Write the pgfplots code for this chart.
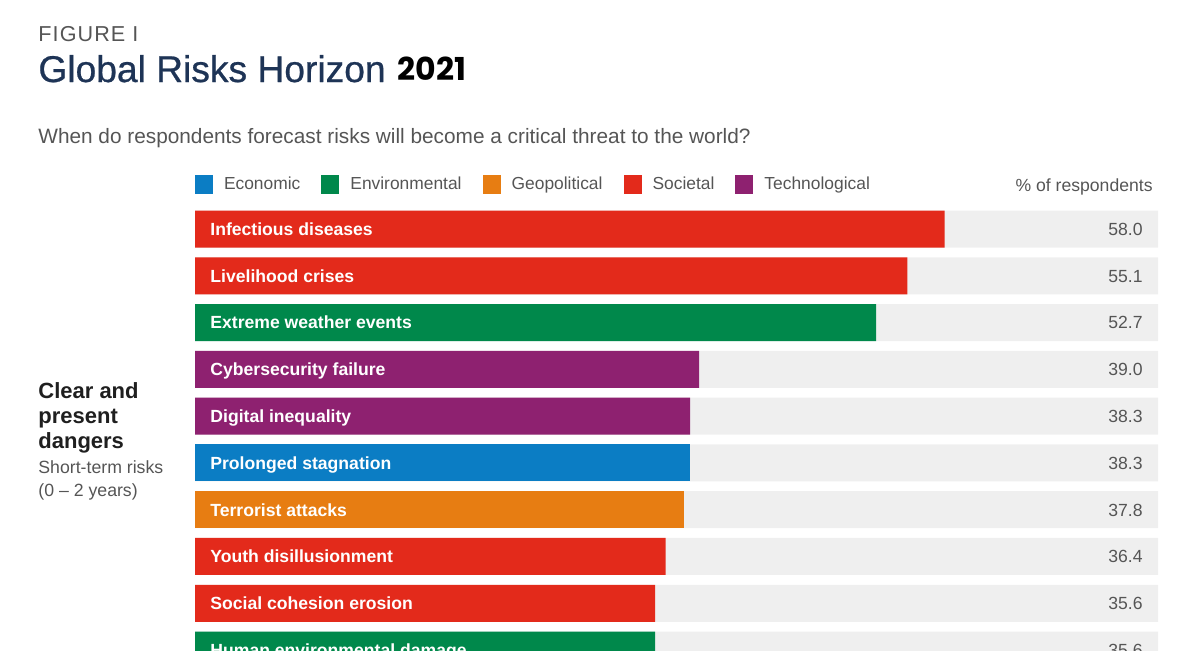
\documentclass[border=0pt]{standalone}
\usepackage{fontspec}
\setmainfont{Liberation Sans}
\newfontfamily\poppins{Poppins}
\newfontfamily\titlefont[FakeBold=0.7]{Liberation Sans}
\usepackage{pgfplots}
\usepackage{pgfplotstable}
\pgfplotsset{compat=1.18}
\definecolor{ecocol}{HTML}{0B7DC4}
\definecolor{envcol}{HTML}{00884B}
\definecolor{geocol}{HTML}{E77D12}
\definecolor{soccol}{HTML}{E32A1B}
\definecolor{teccol}{HTML}{8E2170}
\definecolor{bggray}{HTML}{EFEFEF}
\definecolor{txtgray}{HTML}{555555}
\definecolor{navy}{HTML}{1E3456}
\pgfplotsset{sqleg/.style={legend image code/.code={\fill[##1] (0pt,-4.6pt) rectangle (9pt,4.9pt);}}}

\pgfplotstableread[col sep=comma]{
row,value,label
0,58.0,Infectious diseases
1,55.1,Livelihood crises
2,52.7,Extreme weather events
3,39.0,Cybersecurity failure
4,38.3,Digital inequality
5,38.3,Prolonged stagnation
6,37.8,Terrorist attacks
7,36.4,Youth disillusionment
8,35.6,Social cohesion erosion
9,35.6,Human environmental damage
}\risks

\begin{document}
\begin{tikzpicture}
\useasboundingbox (0pt,0pt) rectangle (600pt,-325pt);
\clip (0pt,0pt) rectangle (600pt,-325pt);

\node[anchor=base west, inner sep=0pt, text=txtgray, font=\fontsize{10.8}{13}\selectfont\addfontfeature{LetterSpace=5}] at (19pt,-20.5pt) {FIGURE I};
\node[anchor=base west, inner sep=0pt, text=navy, font=\titlefont\fontsize{18.6}{22}\selectfont] at (19pt,-41pt) {Global Risks Horizon};
\node[anchor=base west, inner sep=0pt, text=black, font=\poppins\bfseries\fontsize{15.8}{18}\selectfont] at (198.5pt,-40pt) {2021};
\node[anchor=base west, inner sep=0pt, text=txtgray, font=\fontsize{10.4}{12}\selectfont] at (19pt,-71.5pt) {When do respondents forecast risks will become a critical threat to the world?};
\node[anchor=base east, inner sep=0pt, text=txtgray, font=\fontsize{8.8}{10}\selectfont] at (576.5pt,-95.5pt) {\% of respondents};

\node[anchor=base west, inner sep=0pt, text=black!88, font=\bfseries\fontsize{11}{13}\selectfont] at (19pt,-199pt) {Clear and};
\node[anchor=base west, inner sep=0pt, text=black!88, font=\bfseries\fontsize{11}{13}\selectfont] at (19pt,-211.5pt) {present};
\node[anchor=base west, inner sep=0pt, text=black!88, font=\bfseries\fontsize{11}{13}\selectfont] at (19pt,-224pt) {dangers};
\node[anchor=base west, inner sep=0pt, text=txtgray, font=\fontsize{8.85}{10}\selectfont] at (19pt,-236.8pt) {Short-term risks};
\node[anchor=base west, inner sep=0pt, text=txtgray, font=\fontsize{8.85}{10}\selectfont] at (19pt,-248.3pt) {(0 – 2 years)};

\begin{axis}[
  at={(97.5pt,-102.8pt)}, anchor=north west,
  scale only axis, width=481.5pt, height=233.9pt,
  xmin=0, xmax=74.5, ymin=-0.5, ymax=9.5, y dir=reverse,
  axis lines=none, xtick=\empty, ytick=\empty,
  xbar, bar width=18.5pt, bar shift=0pt,
  legend columns=-1,
  legend style={at={(0,1.046)}, anchor=west, draw=none, fill=none,
    inner sep=0pt, outer sep=0pt, text=txtgray,
    font=\fontsize{8.7}{10}\selectfont,
    nodes={inner sep=0pt},
    /tikz/every odd column/.append style={column sep=5.5pt},
    /tikz/every even column/.append style={column sep=10.5pt}},
]
\addplot[fill=bggray, draw=none, forget plot, bar shift=0pt,
  point meta=explicit,
  nodes near coords={\pgfmathprintnumber[fixed,fixed zerofill,precision=1,assume math mode=true]{\pgfplotspointmeta}},
  nodes near coords style={anchor=base east, xshift=-7.5pt, yshift=-3.2pt, inner sep=0pt, text=txtgray, font=\fontsize{8.8}{10}\selectfont}]
  table[x expr=74.5, y=row, meta=value] {\risks};
\addplot[fill=ecocol, draw=none, bar shift=0pt, sqleg] coordinates {(38.3,5)};
\addplot[fill=envcol, draw=none, bar shift=0pt, sqleg] coordinates {(52.7,2) (35.6,9)};
\addplot[fill=geocol, draw=none, bar shift=0pt, sqleg] coordinates {(37.8,6)};
\addplot[fill=soccol, draw=none, bar shift=0pt, sqleg] coordinates {(58.0,0) (55.1,1) (36.4,7) (35.6,8)};
\addplot[fill=teccol, draw=none, bar shift=0pt, sqleg] coordinates {(39.0,3) (38.3,4)};
\legend{Economic,Environmental,Geopolitical,Societal,Technological}
\addplot[draw=none, fill=none, forget plot, bar shift=0pt,
  point meta=explicit symbolic, nodes near coords,
  nodes near coords style={anchor=base west, xshift=7.5pt, yshift=-3.2pt, inner sep=0pt, text=white, font=\bfseries\fontsize{8.8}{10}\selectfont}]
  table[x expr=0, y=row, meta=label] {\risks};
\end{axis}
\end{tikzpicture}
\end{document}
